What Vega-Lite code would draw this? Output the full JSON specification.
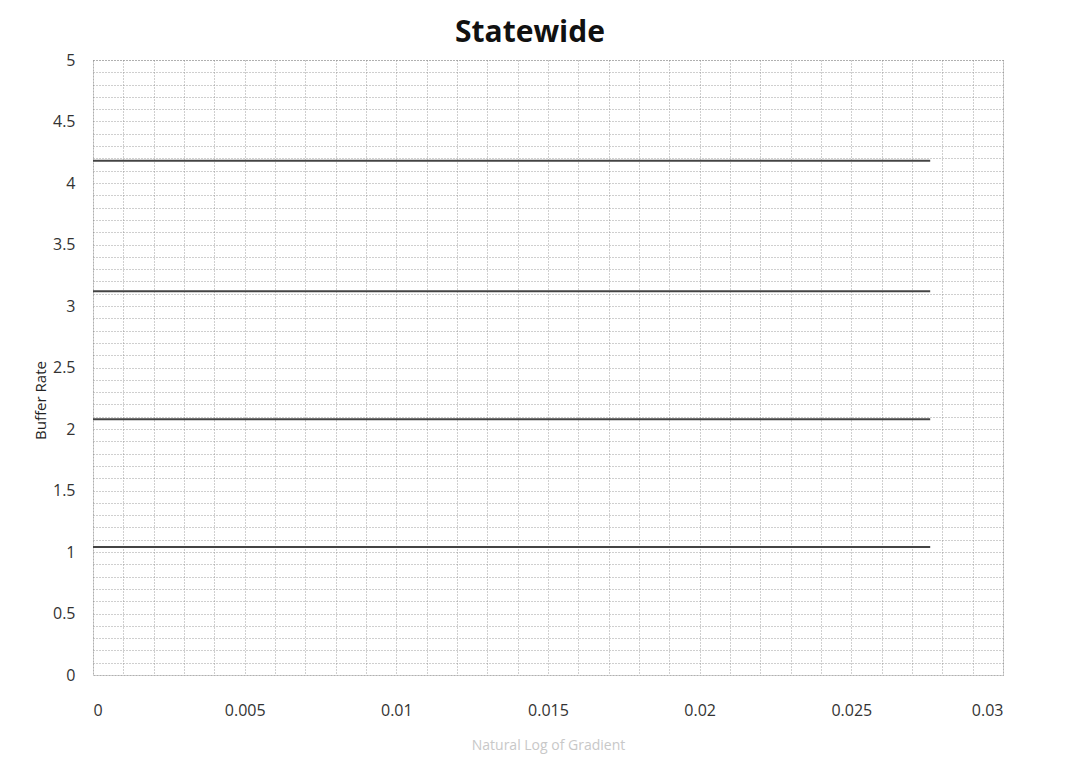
{
  "$schema": "https://vega.github.io/schema/vega-lite/v6.json",
  "autosize": "none",
  "padding": {"left": 93, "top": 60, "right": 88, "bottom": 88},
  "width": 910,
  "height": 615,
  "background": "white",
  "title": {
    "text": "Statewide",
    "font": "Open Sans",
    "fontSize": 30,
    "fontWeight": "bold",
    "color": "#111111",
    "anchor": "middle",
    "dx": -18,
    "offset": 4
  },
  "config": {
    "view": {"stroke": "#999999", "strokeDash": [1, 2], "strokeWidth": 1},
    "axis": {
      "labelFont": "Open Sans",
      "labelFontSize": 16,
      "labelColor": "#333333",
      "titleFont": "Open Sans",
      "domain": false,
      "ticks": false,
      "gridColor": "#888888",
      "gridDash": [1, 2],
      "gridWidth": 1,
      "gridOpacity": 0.8
    }
  },
  "data": {
    "values": [
      {"rate": 4.18, "x0": 0, "x1": 0.0276},
      {"rate": 3.12, "x0": 0, "x1": 0.0276},
      {"rate": 2.08, "x0": 0, "x1": 0.0276},
      {"rate": 1.04, "x0": 0, "x1": 0.0276}
    ]
  },
  "mark": {"type": "rule", "color": "#444444", "strokeWidth": 2},
  "encoding": {
    "x": {
      "field": "x0",
      "type": "quantitative",
      "scale": {"domain": [0, 0.03], "nice": false, "zero": true},
      "axis": {
        "title": "Natural Log of Gradient",
        "titleColor": "#c8c8c8",
        "titleFontSize": 14,
        "titleFontWeight": "normal",
        "titlePadding": 20,
        "labelPadding": 27,
        "values": [0, 0.001, 0.002, 0.003, 0.004, 0.005, 0.006, 0.007, 0.008, 0.009, 0.01, 0.011, 0.012, 0.013, 0.014, 0.015, 0.016, 0.017, 0.018, 0.019, 0.02, 0.021, 0.022, 0.023, 0.024, 0.025, 0.026, 0.027, 0.028, 0.029, 0.03],
        "labelExpr": "abs(datum.value*200 - round(datum.value*200)) < 0.000001 ? format(datum.value, '~g') : ''"
      }
    },
    "x2": {"field": "x1"},
    "y": {
      "field": "rate",
      "type": "quantitative",
      "scale": {"domain": [0, 5], "nice": false},
      "axis": {
        "title": "Buffer Rate",
        "titleColor": "#222222",
        "titleFontSize": 15,
        "titleFontWeight": "normal",
        "titlePadding": 4,
        "titleY": 340,
        "labelPadding": 18,
        "values": [0, 0.1, 0.2, 0.3, 0.4, 0.5, 0.6, 0.7, 0.8, 0.9, 1, 1.1, 1.2, 1.3, 1.4, 1.5, 1.6, 1.7, 1.8, 1.9, 2, 2.1, 2.2, 2.3, 2.4, 2.5, 2.6, 2.7, 2.8, 2.9, 3, 3.1, 3.2, 3.3, 3.4, 3.5, 3.6, 3.7, 3.8, 3.9, 4, 4.1, 4.2, 4.3, 4.4, 4.5, 4.6, 4.7, 4.8, 4.9, 5],
        "labelExpr": "abs(datum.value*2 - round(datum.value*2)) < 0.000001 ? format(datum.value, '~g') : ''"
      }
    }
  }
}
